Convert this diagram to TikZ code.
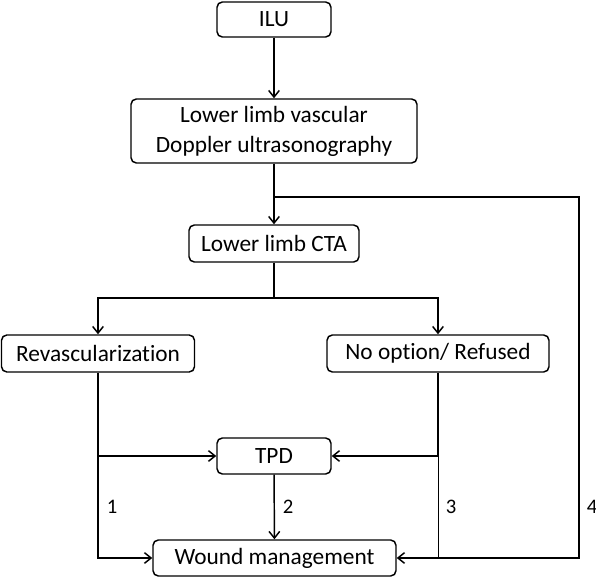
\documentclass[tikz,border=0pt]{standalone}
\usepackage{fontspec}
\setmainfont{Carlito}[Ligatures={NoCommon}]
\usetikzlibrary{arrows.meta}

\begin{document}
\begin{tikzpicture}[x=0.75pt, y=-0.75pt, line width=1.1pt,
  box/.style={draw, rounded corners=4pt, inner sep=0pt, align=center,
    font=\fontsize{17.5}{22.5}\selectfont},
  arr/.style={-{Straight Barb[length=5pt,width=8pt]}},
  num/.style={font=\fontsize{15.5}{18}\selectfont}]
\useasboundingbox (0,0) rectangle (596,577);
\node[box, minimum width=85.5pt, minimum height=26.25pt] (ilu) at (274,19.5) {ILU};
\node[box, minimum width=214.5pt, minimum height=48pt] (doppler) at (274,131)
  {Lower limb vascular\\Doppler ultrasonography};
\node[box, minimum width=127.5pt, minimum height=27.75pt] (cta) at (274,243.5) {Lower limb CTA};
\node[box, minimum width=144.75pt, minimum height=27.75pt] (revasc) at (98,353.5) {Revascularization};
\node[box, minimum width=166.5pt, minimum height=27.75pt] (noopt) at (438,353.5) {No option/ Refused};
\node[box, minimum width=85.5pt, minimum height=27pt] (tpd) at (274,456) {TPD};
\node[box, minimum width=182.25pt, minimum height=27pt] (wound) at (274.5,558) {Wound management};
\coordinate (split) at (274,197);
\coordinate (fork) at (274,298);
\coordinate (corner) at (579,197);
\draw[arr] (ilu) -- (doppler);
\draw[arr] (doppler) -- (cta);
\draw[arr] (split) -- (corner) |- (wound);
\draw[arr] (cta) -- (fork) -| (revasc);
\draw[arr] (fork) -| (noopt);
\draw[arr] (revasc) |- (wound);
\draw[arr] (revasc.south |- tpd) -- (tpd);
\draw[arr] (noopt) |- (tpd);
\draw[line width=0.7pt] (noopt.south |- tpd) -- (noopt.south |- wound);
\draw[arr] (tpd) -- (wound);
\node[num] (n1) at (112,507) {1};
\node[num] (n2) at (288,507) {2};
\node[num] (n3) at (451,507) {3};
\node[num] (n4) at (592,507) {4};
\end{tikzpicture}
\end{document}
